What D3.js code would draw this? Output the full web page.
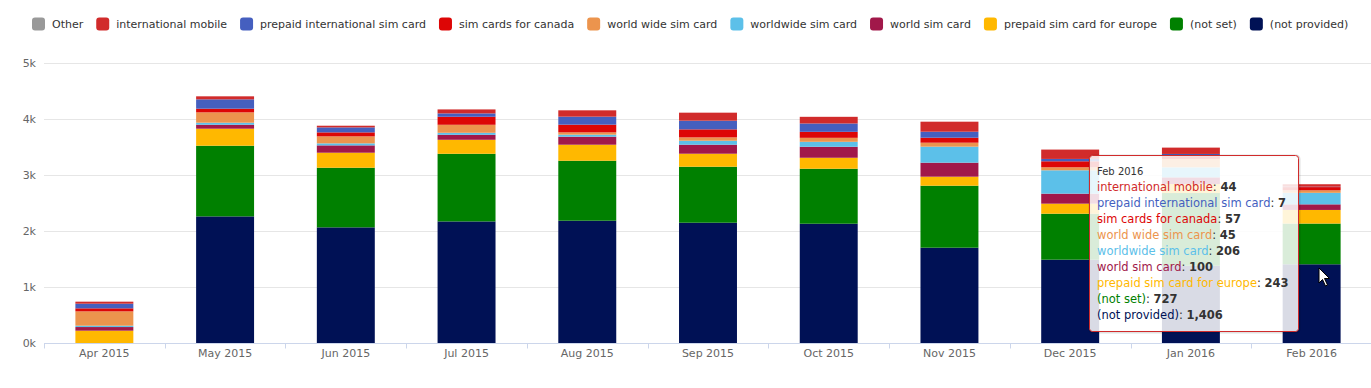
<!DOCTYPE html>
<html>
<head>
<meta charset="utf-8">
<script src="https://cdn.jsdelivr.net/npm/d3@7"></script>
<style>
  body { margin: 0; background: #fff; }
  svg { display: block; font-family: "DejaVu Sans", Verdana, sans-serif; }
</style>
</head>
<body>
<div id="chart"></div>
<script>
// months on the x axis
var months = ["Apr 2015", "May 2015", "Jun 2015", "Jul 2015", "Aug 2015", "Sep 2015",
    "Oct 2015", "Nov 2015", "Dec 2015", "Jan 2016", "Feb 2016"];

// sessions per keyword (Feb 2016 from the tooltip)
var other            = [0, 0, 0, 0, 0, 0, 0, 0, 0, 0, 0];
var intlMobile       = [36, 54, 30, 71, 113, 143, 119, 179, 167, 113, 44];
var prepaidIntl      = [83, 167, 89, 60, 143, 155, 149, 107, 42, 40, 7];
var simCanada        = [54, 65, 71, 143, 137, 143, 107, 89, 107, 50, 57];
var worldWideSim     = [256, 185, 125, 143, 42, 60, 71, 71, 54, 149, 45];
var worldwideSim     = [24, 36, 36, 36, 36, 71, 89, 286, 417, 179, 206];
var worldSim         = [65, 71, 131, 89, 143, 161, 196, 250, 179, 119, 100];
var prepaidEurope    = [220, 304, 268, 250, 286, 232, 196, 161, 179, 161, 243];
var notSet           = [0, 1262, 1065, 1208, 1071, 1000, 982, 1107, 821, 1298, 727];
var notProvided      = [0, 2261, 2065, 2171, 2184, 2148, 2130, 1702, 1488, 1380, 1406];

var seriesNames = ["Other", "international mobile", "prepaid international sim card",
    "sim cards for canada", "world wide sim card", "worldwide sim card", "world sim card",
    "prepaid sim card for europe", "(not set)", "(not provided)"];
var seriesValues = [other, intlMobile, prepaidIntl, simCanada, worldWideSim, worldwideSim,
    worldSim, prepaidEurope, notSet, notProvided];
var seriesColors = ["#999999", "#d12b2b", "#455fbf", "#dd0606", "#ec944d", "#5cc0e9",
    "#a1184a", "#ffb800", "#008000", "#001155"];

var yTicks = [0, 1000, 2000, 3000, 4000, 5000];

var hoverIndex = 10; // tooltip month

var width = 1371, height = 388;
var margin = { left: 44, right: 0, top: 63, bottom: 45 };

// table for d3.stack
var table = months.map(function(m, i) {
    var row = { month: m };
    seriesNames.forEach(function(s, j) { row[s] = seriesValues[j][i]; });
    return row;
});

var color = d3.scaleOrdinal().domain(seriesNames).range(seriesColors);

// first legend entry sits on top of the stack
var stack = d3.stack().keys(seriesNames.slice().reverse());
var layers = stack(table);

var x = d3.scaleBand()
    .domain(months)
    .range([margin.left, 1372])
    .paddingInner(0.52)
    .paddingOuter(0.26);

var y = d3.scaleLinear()
    .domain([0, 5000])
    .range([height - margin.bottom, margin.top]);

var svg = d3.select("#chart").append("svg")
    .attr("width", width)
    .attr("height", height);

// //////////////////////////////////////////////////////////
// //////////////////// Grid + axes /////////////////////////
// //////////////////////////////////////////////////////////

svg.append("g").selectAll("line")
    .data(yTicks.slice(1))
    .enter().append("line")
    .attr("x1", margin.left).attr("x2", width)
    .attr("y1", function(d) { return Math.round(y(d)) + 0.5; })
    .attr("y2", function(d) { return Math.round(y(d)) + 0.5; })
    .style("stroke", "#e6e6e6");

var yAxis = svg.append("g")
    .attr("transform", "translate(" + (margin.left - 8) + ",0)")
    .call(d3.axisLeft(y).tickValues(yTicks).tickSize(0)
        .tickFormat(function(d) { return (d / 1000) + "k"; }));
yAxis.select(".domain").remove();
yAxis.selectAll("text")
    .attr("x", 0)
    .style("font-family", "DejaVu Sans, sans-serif")
    .style("font-size", "11px")
    .style("fill", "#666");

// //////////////////////////////////////////////////////////
// //////////////////// Bars ////////////////////////////////
// //////////////////////////////////////////////////////////

svg.append("g").selectAll("g")
    .data(layers)
    .enter().append("g")
    .style("fill", function(d) { return color(d.key); })
    .selectAll("rect")
    .data(function(d) { return d; })
    .enter().append("rect")
    .attr("x", function(d) { return x(d.data.month); })
    .attr("width", x.bandwidth())
    .attr("y", function(d) { return y(d[1]); })
    .attr("height", function(d) { return y(d[0]) - y(d[1]); });

// x axis line, ticks between categories, labels
var baseY = Math.round(y(0)) + 0.5;
svg.append("line")
    .attr("x1", margin.left).attr("x2", width)
    .attr("y1", baseY).attr("y2", baseY)
    .style("stroke", "#ccd6eb");

var step = x.step();
svg.append("g").selectAll("line")
    .data(d3.range(months.length + 1))
    .enter().append("line")
    .attr("x1", function(i) { return Math.round(margin.left + i * step) + 0.5; })
    .attr("x2", function(i) { return Math.round(margin.left + i * step) + 0.5; })
    .attr("y1", baseY).attr("y2", baseY + 5)
    .style("stroke", "#ccd6eb");

svg.append("g").selectAll("text")
    .data(months)
    .enter().append("text")
    .attr("x", function(d) { return x(d) + x.bandwidth() / 2; })
    .attr("y", 357)
    .attr("text-anchor", "middle")
    .style("font-size", "11px")
    .style("fill", "#666")
    .text(function(d) { return d; });

// //////////////////////////////////////////////////////////
// //////////////////// Legend //////////////////////////////
// //////////////////////////////////////////////////////////

var legend = svg.append("g");
var items = legend.selectAll("g")
    .data(seriesNames)
    .enter().append("g");

items.append("rect")
    .attr("width", 13).attr("height", 13)
    .attr("y", -6.5)
    .attr("rx", 3).attr("ry", 3)
    .style("fill", function(d) { return color(d); });

items.append("text")
    .attr("x", 20)
    .attr("dy", "0.35em")
    .style("font-size", "11px")
    .style("fill", "#333")
    .text(function(d) { return d; });

var pos = 0;
items.each(function() {
    var w = this.querySelector("text").getComputedTextLength();
    this.__x = pos;
    pos += 20 + w + 13;
});
var legendWidth = pos - 13;
var legendLeft = Math.round(690 - legendWidth / 2);
items.attr("transform", function() { return "translate(" + (legendLeft + this.__x) + ",24)"; });

// //////////////////////////////////////////////////////////
// //////////////////// Tooltip /////////////////////////////
// //////////////////////////////////////////////////////////

var tipRows = seriesNames.map(function(s, j) {
    return { name: s, value: seriesValues[j][hoverIndex] };
}).filter(function(d) { return d.value > 0; });

var tipX = 1089, tipY = 155;
var tip = svg.append("g").attr("transform", "translate(" + tipX + "," + tipY + ")");

var tipShadow = tip.append("rect")
    .attr("x", 1).attr("y", 1)
    .attr("rx", 3)
    .style("fill", "none")
    .style("stroke", "rgba(0,0,0,0.12)")
    .style("stroke-width", 3);
var tipBox = tip.append("rect")
    .attr("rx", 3)
    .style("fill", "rgba(255,255,255,0.85)")
    .style("stroke", color(tipRows[0].name))
    .style("stroke-width", 1);

var tipText = tip.append("text")
    .style("font-size", "11.5px")
    .style("fill", "#333");

tipText.append("tspan")
    .attr("x", 8).attr("y", 20)
    .style("font-size", "10px")
    .text(months[hoverIndex]);

tipRows.forEach(function(d, i) {
    var line = tipText.append("tspan").attr("x", 8).attr("y", 36 + i * 16);
    line.append("tspan").style("fill", color(d.name)).text(d.name);
    tipText.append("tspan").text(": ");
    tipText.append("tspan").style("font-weight", "bold").text(d3.format(",")(d.value));
});

var tipW = 209, tipH = 176;
tipBox.attr("width", tipW).attr("height", tipH).attr("x", 0.5).attr("y", 0.5);
tipShadow.attr("width", tipW).attr("height", tipH);

// mouse pointer
svg.append("path")
    .attr("transform", "translate(1319,268)")
    .attr("d", "M0,0 L0,15 L3.5,11.5 L6.5,18 L8.5,17 L5.5,10.5 L10.5,10.5 Z")
    .style("fill", "#fff")
    .style("stroke", "#000")
    .style("stroke-width", 1);
</script>
</body>
</html>
